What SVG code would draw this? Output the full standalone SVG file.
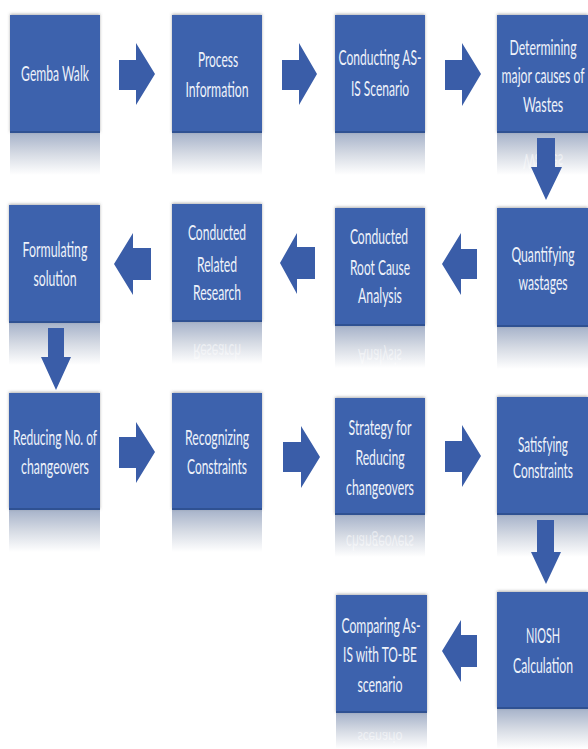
<svg xmlns="http://www.w3.org/2000/svg" width="588" height="749" viewBox="0 0 588 749">
<style>
.box{fill:#3D62AD;filter:url(#sh)}
.edge{fill:#2F5192}
.arrow{fill:#3A5DA8}
.lbl{font-family:Lato,"Liberation Sans",sans-serif;font-size:21px;fill:#EEF2FA;text-anchor:middle}
.mir{font-family:Lato,"Liberation Sans",sans-serif;font-size:21px;fill:#FFFFFF;fill-opacity:0.5;text-anchor:middle}
.refl{fill:url(#rg)}
</style>
<defs>
<linearGradient id="rg" x1="0" y1="0" x2="0" y2="1">
<stop offset="0" stop-color="#A7B3CA"/>
<stop offset="0.5" stop-color="#D6DBE4"/>
<stop offset="1" stop-color="#FFFFFF"/>
</linearGradient>
<filter id="sh" x="-10%" y="-10%" width="120%" height="120%">
<feDropShadow dx="0" dy="-1" stdDeviation="1.5" flood-color="#666" flood-opacity="0.5"/>
</filter>
</defs>
<rect width="588" height="749" fill="#FFFFFF"/>

<g id="n1">
<rect class="refl" x="10" y="133" width="90" height="42"/>
<rect class="box" x="10" y="15" width="90" height="118"/>
<rect class="edge" x="10" y="131" width="90" height="2"/>
<text class="lbl" transform="translate(55,0) scale(0.6,1)" x="0" y="81" textLength="113" lengthAdjust="spacingAndGlyphs">Gemba Walk</text>
</g>
<g id="n2">
<rect class="refl" x="172" y="133" width="90" height="42"/>
<rect class="box" x="172" y="15" width="90" height="118"/>
<rect class="edge" x="172" y="131" width="90" height="2"/>
<text class="lbl" transform="translate(218,0) scale(0.6,1)" x="0" y="67" textLength="67" lengthAdjust="spacingAndGlyphs">Process</text>
<text class="lbl" transform="translate(217,0) scale(0.6,1)" x="0" y="97" textLength="105" lengthAdjust="spacingAndGlyphs">Information</text>
</g>
<g id="n3">
<rect class="refl" x="335" y="133" width="90" height="42"/>
<rect class="box" x="335" y="15" width="90" height="118"/>
<rect class="edge" x="335" y="131" width="90" height="2"/>
<text class="lbl" transform="translate(380,0) scale(0.6,1)" x="0" y="65" textLength="138" lengthAdjust="spacingAndGlyphs">Conducting AS-</text>
<text class="lbl" transform="translate(380,0) scale(0.6,1)" x="0" y="96" textLength="97" lengthAdjust="spacingAndGlyphs">IS Scenario</text>
</g>
<g id="n4">
<rect class="refl" x="497" y="133" width="91" height="42"/>
<rect class="box" x="497" y="15" width="91" height="118"/>
<rect class="edge" x="497" y="131" width="91" height="2"/>
<text class="lbl" transform="translate(543,0) scale(0.6,1)" x="0" y="55" textLength="112" lengthAdjust="spacingAndGlyphs">Determining</text>
<text class="lbl" transform="translate(543,0) scale(0.6,1)" x="0" y="83" textLength="138" lengthAdjust="spacingAndGlyphs">major causes of</text>
<text class="lbl" transform="translate(543,0) scale(0.6,1)" x="0" y="112" textLength="67" lengthAdjust="spacingAndGlyphs">Wastes</text>
<text class="mir" transform="translate(543,266) scale(0.6,-1)" x="0" y="112" textLength="67" lengthAdjust="spacingAndGlyphs" fill-opacity="0.2">Wastes</text>
</g>
<g id="n5">
<rect class="refl" x="497" y="327" width="91" height="42"/>
<rect class="box" x="497" y="208" width="91" height="119"/>
<rect class="edge" x="497" y="325" width="91" height="2"/>
<text class="lbl" transform="translate(543,0) scale(0.6,1)" x="0" y="262" textLength="105" lengthAdjust="spacingAndGlyphs">Quantifying</text>
<text class="lbl" transform="translate(543,0) scale(0.6,1)" x="0" y="290" textLength="82" lengthAdjust="spacingAndGlyphs">wastages</text>
</g>
<g id="n6">
<rect class="refl" x="335" y="326" width="90" height="42"/>
<rect class="box" x="335" y="208" width="90" height="118"/>
<rect class="edge" x="335" y="324" width="90" height="2"/>
<text class="lbl" transform="translate(379,0) scale(0.6,1)" x="0" y="244" textLength="97" lengthAdjust="spacingAndGlyphs">Conducted</text>
<text class="lbl" transform="translate(380,0) scale(0.6,1)" x="0" y="275" textLength="100" lengthAdjust="spacingAndGlyphs">Root Cause</text>
<text class="lbl" transform="translate(380,0) scale(0.6,1)" x="0" y="303" textLength="73" lengthAdjust="spacingAndGlyphs">Analysis</text>
<text class="mir" transform="translate(380,652) scale(0.6,-1)" x="0" y="303" textLength="73" lengthAdjust="spacingAndGlyphs" fill-opacity="0.35">Analysis</text>
</g>
<g id="n7">
<rect class="refl" x="172" y="322" width="90" height="42"/>
<rect class="box" x="172" y="204" width="90" height="118"/>
<rect class="edge" x="172" y="320" width="90" height="2"/>
<text class="lbl" transform="translate(217,0) scale(0.6,1)" x="0" y="240" textLength="97" lengthAdjust="spacingAndGlyphs">Conducted</text>
<text class="lbl" transform="translate(217,0) scale(0.6,1)" x="0" y="272" textLength="67" lengthAdjust="spacingAndGlyphs">Related</text>
<text class="lbl" transform="translate(217,0) scale(0.6,1)" x="0" y="300" textLength="80" lengthAdjust="spacingAndGlyphs">Research</text>
<text class="mir" transform="translate(217,644) scale(0.6,-1)" x="0" y="300" textLength="80" lengthAdjust="spacingAndGlyphs" fill-opacity="0.35">Research</text>
</g>
<g id="n8">
<rect class="refl" x="9" y="323" width="91" height="42"/>
<rect class="box" x="9" y="205" width="91" height="118"/>
<rect class="edge" x="9" y="321" width="91" height="2"/>
<text class="lbl" transform="translate(55,0) scale(0.6,1)" x="0" y="257" textLength="108" lengthAdjust="spacingAndGlyphs">Formulating</text>
<text class="lbl" transform="translate(55,0) scale(0.6,1)" x="0" y="286" textLength="72" lengthAdjust="spacingAndGlyphs">solution</text>
</g>
<g id="n9">
<rect class="refl" x="9" y="510" width="91" height="42"/>
<rect class="box" x="9" y="393" width="91" height="117"/>
<rect class="edge" x="9" y="508" width="91" height="2"/>
<text class="lbl" transform="translate(55,0) scale(0.6,1)" x="0" y="445" textLength="140" lengthAdjust="spacingAndGlyphs">Reducing No. of</text>
<text class="lbl" transform="translate(55,0) scale(0.6,1)" x="0" y="474" textLength="113" lengthAdjust="spacingAndGlyphs">changeovers</text>
</g>
<g id="n10">
<rect class="refl" x="172" y="510" width="90" height="42"/>
<rect class="box" x="172" y="393" width="90" height="117"/>
<rect class="edge" x="172" y="508" width="90" height="2"/>
<text class="lbl" transform="translate(217,0) scale(0.6,1)" x="0" y="445" textLength="107" lengthAdjust="spacingAndGlyphs">Recognizing</text>
<text class="lbl" transform="translate(217,0) scale(0.6,1)" x="0" y="474" textLength="100" lengthAdjust="spacingAndGlyphs">Constraints</text>
</g>
<g id="n11">
<rect class="refl" x="335" y="515" width="90" height="42"/>
<rect class="box" x="335" y="398" width="90" height="117"/>
<rect class="edge" x="335" y="513" width="90" height="2"/>
<text class="lbl" transform="translate(380,0) scale(0.6,1)" x="0" y="435" textLength="105" lengthAdjust="spacingAndGlyphs">Strategy for</text>
<text class="lbl" transform="translate(380,0) scale(0.6,1)" x="0" y="465" textLength="82" lengthAdjust="spacingAndGlyphs">Reducing</text>
<text class="lbl" transform="translate(380,0) scale(0.6,1)" x="0" y="495" textLength="113" lengthAdjust="spacingAndGlyphs">changeovers</text>
<text class="mir" transform="translate(380,1030) scale(0.6,-1)" x="0" y="495" textLength="113" lengthAdjust="spacingAndGlyphs" fill-opacity="0.35">changeovers</text>
</g>
<g id="n12">
<rect class="refl" x="497" y="515" width="91" height="42"/>
<rect class="box" x="497" y="397" width="91" height="118"/>
<rect class="edge" x="497" y="513" width="91" height="2"/>
<text class="lbl" transform="translate(543,0) scale(0.6,1)" x="0" y="452" textLength="83" lengthAdjust="spacingAndGlyphs">Satisfying</text>
<text class="lbl" transform="translate(543,0) scale(0.6,1)" x="0" y="478" textLength="100" lengthAdjust="spacingAndGlyphs">Constraints</text>
</g>
<g id="n13">
<rect class="refl" x="497" y="709" width="91" height="40"/>
<rect class="box" x="497" y="592" width="91" height="117"/>
<rect class="edge" x="497" y="707" width="91" height="2"/>
<text class="lbl" transform="translate(543,0) scale(0.6,1)" x="0" y="643" textLength="57" lengthAdjust="spacingAndGlyphs">NIOSH</text>
<text class="lbl" transform="translate(543,0) scale(0.6,1)" x="0" y="673" textLength="100" lengthAdjust="spacingAndGlyphs">Calculation</text>
</g>
<g id="n14">
<rect class="refl" x="336" y="713" width="91" height="36"/>
<rect class="box" x="336" y="595" width="91" height="118"/>
<rect class="edge" x="336" y="711" width="91" height="2"/>
<text class="lbl" transform="translate(381,0) scale(0.6,1)" x="0" y="633" textLength="132" lengthAdjust="spacingAndGlyphs">Comparing As-</text>
<text class="lbl" transform="translate(380,0) scale(0.6,1)" x="0" y="662" textLength="123" lengthAdjust="spacingAndGlyphs">IS with TO-BE</text>
<text class="lbl" transform="translate(380,0) scale(0.6,1)" x="0" y="692" textLength="75" lengthAdjust="spacingAndGlyphs">scenario</text>
<text class="mir" transform="translate(380,1251) scale(0.6,-0.75)" x="0" y="692" textLength="75" lengthAdjust="spacingAndGlyphs" fill-opacity="0.55">scenario</text>
</g>

<g id="connectors">
<path class="arrow" d="M119,60 H136 V43 L155,74 L136,105 V90 H119 Z"/>
<path class="arrow" d="M282,60 H299 V43 L317,74 L299,105 V90 H282 Z"/>
<path class="arrow" d="M445,60 H462 V43 L481,74 L462,106 V90 H445 Z"/>
<path class="arrow" d="M537,138 H555 V167 H562 L546,200 L531,167 H537 Z"/>
<path class="arrow" d="M477,249 H461 V233 L442,264 L461,295 V279 H477 Z"/>
<path class="arrow" d="M315,247 H297 V233 L280,263 L297,294 V279 H315 Z"/>
<path class="arrow" d="M151,248 H133 V233 L114,264 L133,295 V280 H151 Z"/>
<path class="arrow" d="M48,328 H64 V357 H71 L56,390 L41,357 H48 Z"/>
<path class="arrow" d="M119,437 H136 V422 L155,452 L136,483 V468 H119 Z"/>
<path class="arrow" d="M283,442 H301 V426 L320,457 L301,488 V472 H283 Z"/>
<path class="arrow" d="M445,441 H462 V425 L481,456 L462,487 V472 H445 Z"/>
<path class="arrow" d="M537,520 H554 V552 H561 L546,584 L531,552 H537 Z"/>
<path class="arrow" d="M477,635 H461 V620 L442,651 L461,682 V667 H477 Z"/>
</g>
</svg>
